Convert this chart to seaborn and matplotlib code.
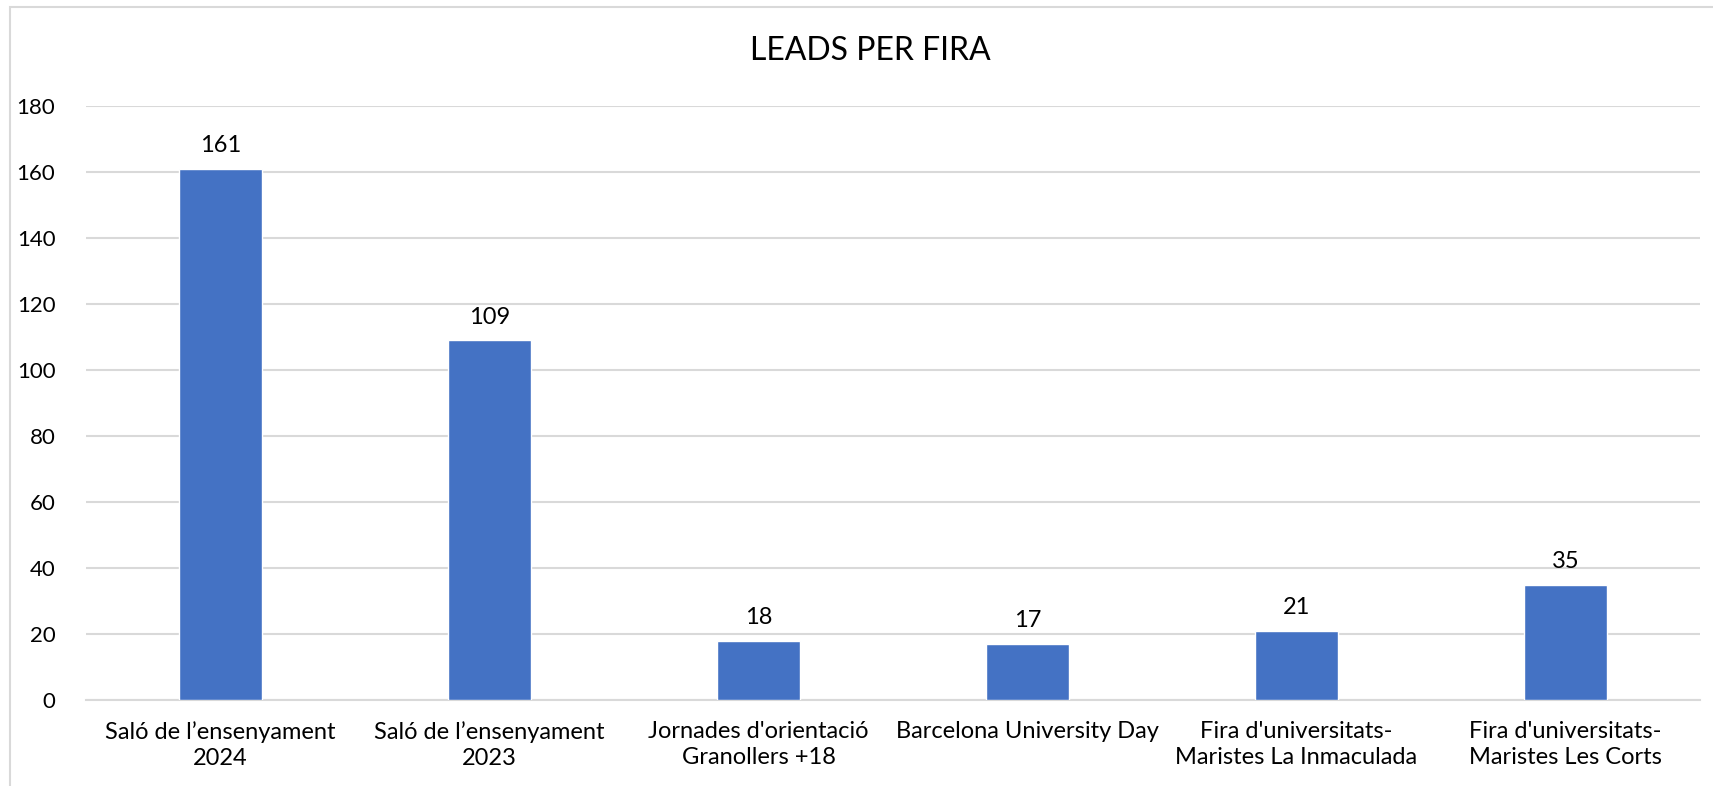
import matplotlib
matplotlib.use("Agg")
import matplotlib.pyplot as plt
import matplotlib.patches as mpatches
import seaborn as sns
import pandas as pd

# chart data
fires = [
    "Saló de l’ensenyament\n2024",
    "Saló de l’ensenyament\n2023",
    "Jornades d'orientació\nGranollers +18",
    "Barcelona University Day",
    "Fira d'universitats-\nMaristes La Inmaculada",
    "Fira d'universitats-\nMaristes Les Corts",
]
leads = [161, 109, 18, 17, 21, 35]
y_ticks = [0, 20, 40, 60, 80, 100, 120, 140, 160, 180]

sns.set_theme(style="white")
plt.rcParams['font.family'] = ['Lato', 'DejaVu Sans']

df = pd.DataFrame({"fira": fires, "leads": leads})

fig = plt.figure(figsize=(17.13, 7.86), dpi=100)
ax = fig.add_axes([0.0502, 0.1094, 0.9422, 0.7557])

sns.barplot(data=df, x="fira", y="leads", color="#4472C4", width=0.31,
            saturation=1, ax=ax, zorder=3)

ax.set_ylim(0, 180)
ax.set_xlim(-0.5, len(fires) - 0.5)
ax.set_yticks(y_ticks)
ax.yaxis.grid(True, color="#D9D9D9", linewidth=1.5, zorder=0)
ax.xaxis.grid(False)
for s in ["top", "right", "left"]:
    ax.spines[s].set_visible(False)
ax.spines["bottom"].set_color("#D9D9D9")
ax.spines["bottom"].set_linewidth(1.5)
ax.tick_params(axis="y", length=0, pad=22, labelsize=16, labelcolor="black")
ax.tick_params(axis="x", length=0, pad=15, labelsize=17, labelcolor="black")
ax.set_xlabel("")
ax.set_ylabel("")
for lbl in ax.get_xticklabels():
    lbl.set_linespacing(1.3)

for i, v in enumerate(leads):
    ax.annotate(str(v), xy=(i, v), xytext=(0, 9), textcoords="offset points",
                ha="center", va="bottom", fontsize=17, color="black")

fig.text(0.508, 0.935, "LEADS PER FIRA", ha="center", va="center",
         fontsize=23, color="black")

# light frame round the chart area (only left and top visible)
frame = mpatches.Rectangle((10 / 1713, -0.1), 1.2, 1 - 7 / 786 + 0.1,
                           transform=fig.transFigure, fill=False,
                           edgecolor="#D9D9D9", linewidth=1.5)
fig.patches.append(frame)

fig.savefig("out.png", dpi=100)
